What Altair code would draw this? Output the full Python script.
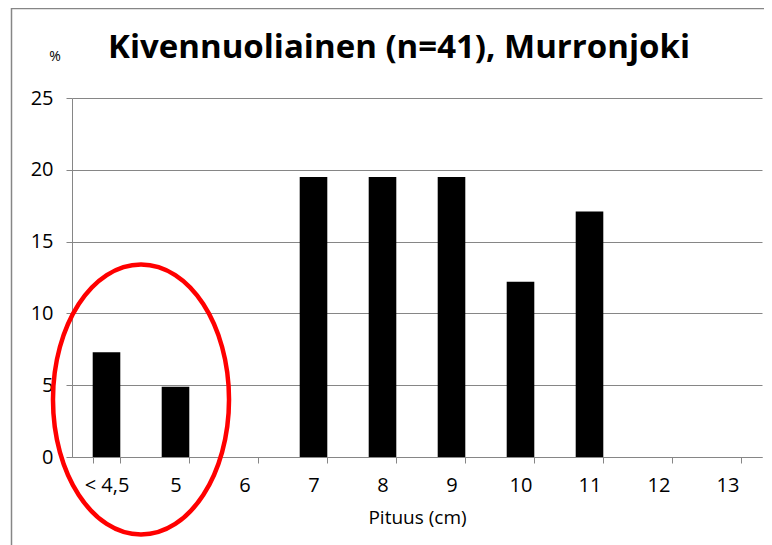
import altair as alt
import pandas as pd

categories = ["< 4,5", "5", "6", "7", "8", "9", "10", "11", "12", "13"]
percent = [7.3, 4.9, 0, 19.5, 19.5, 19.5, 12.2, 17.1, 0, 0]

# annotation: red ellipse around the two first classes
ellipse_cat = ["< 4,5"]
ellipse_y = [4.0]

title_text = ["Kivennuoliainen (n=41), Murronjoki"]
unit_text = ["%"]

GRAY = "#868686"
FONT = "Open Sans"

df = pd.DataFrame({"cat": categories, "pct": percent})
edf = pd.DataFrame({"cat": ellipse_cat, "y": ellipse_y})
tdf = pd.DataFrame({"t": title_text})
udf = pd.DataFrame({"t": unit_text})

xscale = alt.Scale(domain=categories, paddingInner=0.6, paddingOuter=0.3)
yscale = alt.Scale(domain=[0, 25], nice=False)

bars = alt.Chart(df).mark_bar(color="black").encode(
    x=alt.X("cat:N", scale=xscale, sort=categories,
            axis=alt.Axis(title="Pituus (cm)", labelAngle=0, tickBand="extent",
                          tickSize=6, tickColor=GRAY, domainColor=GRAY,
                          labelFont=FONT, labelFontSize=20, labelColor="black",
                          labelPadding=12, titleFont=FONT, titleFontSize=19,
                          titleFontWeight="normal", titleColor="black",
                          titlePadding=13)),
    y=alt.Y("pct:Q", scale=yscale,
            axis=alt.Axis(title=None,
                          values=[0, 5, 10, 15, 20, 25], grid=True, gridColor=GRAY,
                          tickSize=6, tickColor=GRAY, domainColor=GRAY,
                          labelFont=FONT, labelFontSize=20, labelColor="black",
                          labelPadding=13)),
)

ellipse = alt.Chart(edf).mark_point(
    shape="M -0.652 0 A 0.652 1 0 1 0 0.652 0 A 0.652 1 0 1 0 -0.652 0 Z",
    size=72900, stroke="#ff0000", strokeWidth=4.5, filled=False, opacity=1,
    xOffset=34.5,
).encode(
    x=alt.X("cat:N", scale=xscale, sort=categories),
    y=alt.Y("y:Q", scale=yscale),
)

title = alt.Chart(tdf).mark_text(
    font=FONT, fontSize=33, fontWeight="bold", color="black",
    align="center", baseline="alphabetic",
).encode(text="t:N", x=alt.value(327), y=alt.value(-40))

unit = alt.Chart(udf).mark_text(
    font=FONT, fontSize=14, color="black", align="center", baseline="middle",
).encode(text="t:N", x=alt.value(-17), y=alt.value(-41))

frame_v = alt.Chart(edf).mark_rule(color=GRAY, strokeWidth=1.5).encode(
    x=alt.value(-60.5), y=alt.value(-90), y2=alt.value(460)
)
frame_h = alt.Chart(edf).mark_rule(color=GRAY, strokeWidth=1.5).encode(
    x=alt.value(-61), x2=alt.value(710), y=alt.value(-89.5)
)

chart = alt.layer(bars, ellipse, title, unit, frame_v, frame_h).properties(
    width=690, height=359,
    autosize=alt.AutoSizeParams(type="none"),
    padding={"left": 64, "top": 90, "right": 2, "bottom": 88},
).configure_view(stroke="transparent")

chart.save("out.html", embed_options={"renderer": "svg", "actions": False})
